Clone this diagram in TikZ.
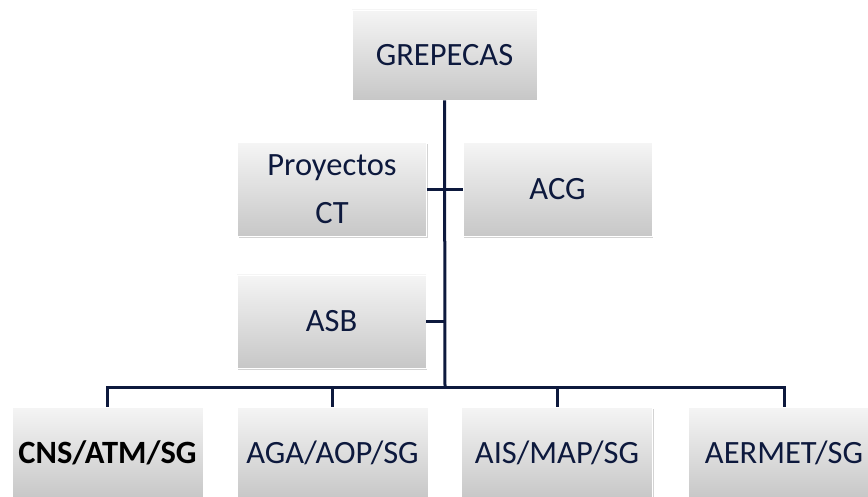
\documentclass[tikz,border=0pt]{standalone}
\usepackage{fontspec}
\setmainfont{Carlito}
\usetikzlibrary{shadows}
\definecolor{navy}{rgb}{0.05,0.1,0.24}
\definecolor{boxtop}{rgb}{0.96,0.96,0.96}
\definecolor{boxbottom}{rgb}{0.78,0.78,0.78}

\begin{document}
\begin{tikzpicture}[x=1pt, y=-1pt,
	box/.style={rectangle, top color=boxtop, bottom color=boxbottom, draw=white, line width=0.8pt,
		minimum width=189pt, minimum height=92pt, inner sep=2pt, align=center, text=navy,
		font=\fontsize{32.5}{48}\selectfont,
		drop shadow={shadow xshift=1pt, shadow yshift=-1.5pt, opacity=0.35}},
	link/.style={draw=navy, line width=3pt}]

	\useasboundingbox (0,0) rectangle (868,497);
	\clip (0,0) rectangle (868,497);

	\node[box, minimum width=185pt, minimum height=90pt] (grepecas) at (444.5,55) {GREPECAS};
	\node[box, minimum height=94pt] (proyectos) at (332,189.5) {Proyectos\\CT};
	\node[box, minimum height=94pt] (acg) at (557.5,189.5) {ACG};
	\node[box, minimum height=93pt] (asb) at (331.5,321.5) {ASB};

	\node[box, minimum width=191pt, text=black] (cns) at (107.5,453) {\bfseries CNS/ATM/SG};
	\node[box, minimum width=191pt] (aga) at (332.5,453) {AGA/AOP/SG};
	\node[box, minimum width=191pt] (ais) at (557,453) {AIS/MAP/SG};
	\node[box, minimum width=191pt] (aermet) at (784,453) {AERMET/SG};

	\coordinate (bus) at (445,387);

	\draw[link] (grepecas.south) -- (bus);
	\draw[link] (proyectos.east) -- (acg.west);
	\draw[link] (asb.east) -- (asb.east -| bus);
	\draw[link] (cns.north) -- (cns.north |- bus) -| (aermet.north);
	\draw[link] (aga.north) -- (aga.north |- bus);
	\draw[link] (ais.north) -- (ais.north |- bus);
\end{tikzpicture}
\end{document}
